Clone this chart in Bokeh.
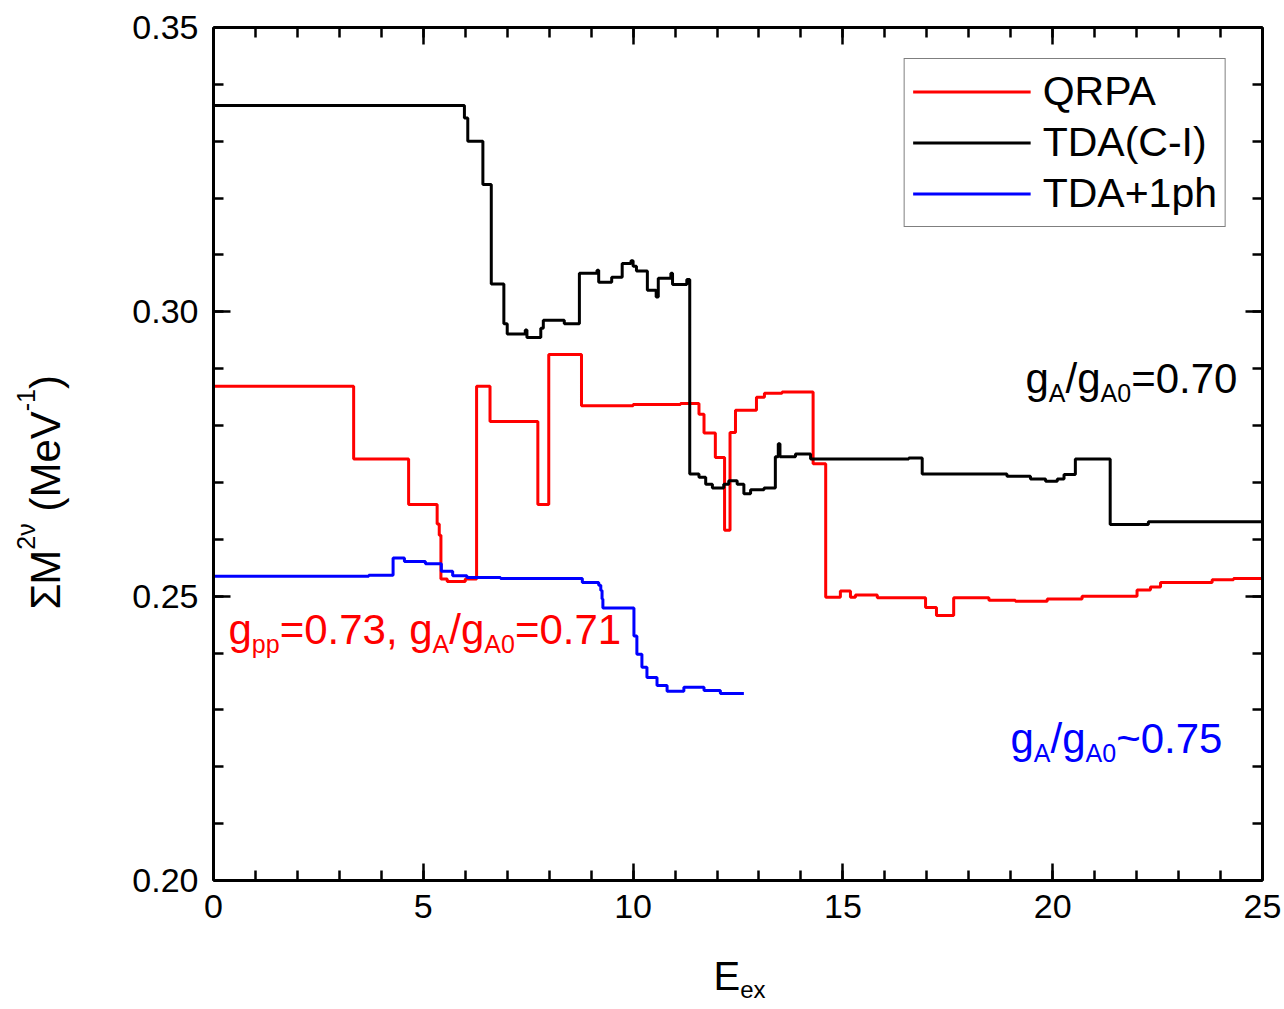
import math
from bokeh.plotting import figure
from bokeh.models import Label, LinearAxis, FixedTicker, PrintfTickFormatter, Range1d
from bokeh.embed import file_html
from bokeh.resources import INLINE

# ---------------- data ----------------
qrpa_e = [0.00, 3.34, 4.65, 5.33, 5.38, 5.42, 5.57, 6.00, 6.27, 6.59, 7.73, 7.99, 8.77, 10.00,
          11.13, 11.57, 11.69, 11.96, 12.18, 12.31, 12.44, 12.94, 13.13, 13.55, 14.29, 14.59,
          14.94, 15.18, 15.30, 15.82, 16.97, 17.23, 17.64, 18.48, 19.11, 19.87, 20.70, 22.01,
          22.33, 22.57, 23.80, 24.31, 25.00]
qrpa_m = [0.2869, 0.2741, 0.2661, 0.2627, 0.2607, 0.2530, 0.2526, 0.2530, 0.2869, 0.2807,
          0.2661, 0.2925, 0.2835, 0.2837, 0.2839, 0.2820, 0.2787, 0.2744, 0.2616, 0.2788,
          0.2827, 0.2850, 0.2857, 0.2859, 0.2733, 0.2498, 0.2509, 0.2498, 0.2502, 0.2497,
          0.2480, 0.2466, 0.2497, 0.2493, 0.2491, 0.2495, 0.2500, 0.2511, 0.2516, 0.2524,
          0.2529, 0.2531, 0.2531]

tda_e = [0.00, 5.98, 6.06, 6.42, 6.62, 6.92, 7.00, 7.43, 7.47, 7.80, 7.86, 8.36, 8.72, 9.14,
         9.18, 9.49, 9.74, 9.95, 10.00, 10.08, 10.34, 10.55, 10.60, 10.90, 10.94, 11.28, 11.35,
         11.57, 11.73, 11.89, 12.16, 12.28, 12.48, 12.64, 12.80, 13.12, 13.39, 13.46, 13.50,
         13.87, 14.23, 16.57, 16.89, 18.91, 19.47, 19.83, 20.11, 20.27, 20.54, 21.37, 22.28, 25.00]
tda_m = [0.3363, 0.3341, 0.3300, 0.3224, 0.3049, 0.2979, 0.2961, 0.2968, 0.2955, 0.2971,
         0.2985, 0.2979, 0.3068, 0.3073, 0.3052, 0.3061, 0.3085, 0.3090, 0.3080, 0.3072,
         0.3038, 0.3026, 0.3059, 0.3068, 0.3048, 0.3057, 0.2715, 0.2709, 0.2697, 0.2690,
         0.2697, 0.2703, 0.2697, 0.2680, 0.2687, 0.2690, 0.2745, 0.2768, 0.2745, 0.2750,
         0.2741, 0.2743, 0.2715, 0.2711, 0.2706, 0.2702, 0.2706, 0.2714, 0.2741, 0.2626,
         0.2631, 0.2631]

ph_e = [0.00, 3.70, 4.28, 4.55, 5.05, 5.43, 5.70, 6.04, 6.84, 8.79, 9.18, 9.23, 9.26, 9.28,
        10.02, 10.09, 10.21, 10.33, 10.57, 10.81, 11.21, 11.69, 12.08, 12.64]
ph_m = [0.2535, 0.2537, 0.2567, 0.2561, 0.2557, 0.2544, 0.2536, 0.2533, 0.2531, 0.2524,
        0.2519, 0.2510, 0.2495, 0.2479, 0.2430, 0.2398, 0.2375, 0.2357, 0.2343, 0.2333,
        0.2340, 0.2334, 0.2329, 0.2329]

series_names = ["QRPA", "TDA(C-I)", "TDA+1ph"]
x_ticks = [0, 5, 10, 15, 20, 25]
x_minor = [i for i in range(0, 26)]
y_ticks = [0.20, 0.25, 0.30, 0.35]
y_minor = [0.20 + 0.01 * i for i in range(16)]
x_lim = (0, 25)
y_lim = (0.20, 0.35)

FONT = "Liberation Sans"

# ---------------- canvas <-> data mapping ----------------
W_, H_ = 1284, 1009
FL, FR, FT, FB = 213, 1262, 27, 880   # pixel box of the data area
def X(px):
    return x_lim[0] + (px - FL) * (x_lim[1] - x_lim[0]) / (FR - FL)
def Y(py):
    return y_lim[0] + (FB - py) * (y_lim[1] - y_lim[0]) / (FB - FT)

p = figure(width=W_, height=H_, x_range=Range1d(X(0), X(W_)), y_range=Range1d(Y(H_), Y(0)),
           output_backend="svg", toolbar_location=None,
           x_axis_location=None, y_axis_location=None,
           min_border_left=0, min_border_right=0, min_border_top=0, min_border_bottom=0)
p.grid.visible = False
p.outline_line_color = None
p.background_fill_color = "white"
p.border_fill_color = "white"

bx = LinearAxis(fixed_location=y_lim[0], bounds=x_lim)
tx = LinearAxis(fixed_location=y_lim[1], bounds=x_lim)
ly = LinearAxis(fixed_location=x_lim[0], bounds=y_lim)
ry = LinearAxis(fixed_location=x_lim[1], bounds=y_lim)
p.add_layout(bx, "below")
p.add_layout(tx, "above")
p.add_layout(ly, "left")
p.add_layout(ry, "right")

for ax in [bx, tx]:
    ax.ticker = FixedTicker(ticks=x_ticks, minor_ticks=x_minor)
    ax.formatter = PrintfTickFormatter(format="%d")
for ax in [ly, ry]:
    ax.ticker = FixedTicker(ticks=y_ticks, minor_ticks=y_minor)
    ax.formatter = PrintfTickFormatter(format="%.2f")

for ax in [bx, tx, ly, ry]:
    ax.axis_line_width = 3
    ax.axis_line_color = "black"
    ax.major_tick_in = 17
    ax.major_tick_out = 0
    ax.minor_tick_in = 10
    ax.minor_tick_out = 0
    ax.major_tick_line_width = 2.5
    ax.minor_tick_line_width = 2.5
    ax.major_tick_line_color = "black"
    ax.minor_tick_line_color = "black"
    ax.major_label_text_font = FONT
    ax.major_label_text_font_size = "34px"
    ax.major_label_text_color = "black"
    ax.axis_label = None

bx.major_label_standoff = 14
ly.major_label_standoff = 15
for ax in [tx, ry]:
    ax.major_label_text_color = None

# ---------------- curves ----------------
p.step(qrpa_e, qrpa_m, mode="after", line_color="#ff0000", line_width=3, legend_label=series_names[0])
p.step(tda_e, tda_m, mode="after", line_color="black", line_width=3, legend_label=series_names[1])
p.step(ph_e, ph_m, mode="after", line_color="#0000ff", line_width=3, legend_label=series_names[2])

lg = p.legend[0]
lg.location = "top_right"
lg.margin = 58
lg.padding = 8
lg.spacing = 2
lg.label_height = 49
lg.glyph_height = 49
lg.glyph_width = 118
lg.label_standoff = 12
lg.label_text_font = FONT
lg.label_text_font_size = "41px"
lg.label_text_color = "black"
lg.border_line_color = "black"
lg.border_line_width = 1.5
lg.background_fill_alpha = 1.0

# ---------------- rich text helpers ----------------
CW = {'g': .556, 'A': .667, '/': .278, '=': .584, '.': .278, ',': .278, ' ': .278, 'p': .556,
      '~': .584, 'E': .667, 'e': .556, 'x': .5, 'M': .833, 'V': .667, '(': .333, ')': .333,
      '-': .333, 'Σ': .592, 'ν': .5}
def tw(s, size):
    return sum(CW.get(c, .556) for c in s) * size

def rich(pieces, px0, py0, color, shift):
    x = px0
    for txt, size, kind in pieces:
        lead = len(txt) - len(txt.lstrip(" "))
        x += tw(" " * lead, size)
        txt = txt.lstrip(" ")
        dy = shift if kind == "sub" else 0
        p.add_layout(Label(x=X(x), y=Y(py0 + dy), text=txt, text_font=FONT,
                           text_font_size=f"{size}px", text_color=color,
                           text_align="left", text_baseline="alphabetic"))
        x += tw(txt, size)

def rich_v(pieces, px0, py0, color, shift):
    y = py0
    for txt, size, kind in pieces:
        lead = len(txt) - len(txt.lstrip(" "))
        y -= tw(" " * lead, size)
        txt = txt.lstrip(" ")
        dx = -shift if kind == "sup" else 0
        p.add_layout(Label(x=X(px0 + dx), y=Y(y), text=txt, text_font=FONT, angle=math.pi / 2,
                           text_font_size=f"{size}px", text_color=color,
                           text_align="left", text_baseline="alphabetic"))
        y -= tw(txt, size)

BIG, SMALL = 42, 25
rich([("g", BIG, ""), ("A", SMALL, "sub"), ("/g", BIG, ""), ("A0", SMALL, "sub"), ("=0.70", BIG, "")],
     1025, 378, "black", 14)
rich([("g", BIG, ""), ("pp", SMALL, "sub"), ("=0.73, g", BIG, ""), ("A", SMALL, "sub"), ("/g", BIG, ""),
      ("A0", SMALL, "sub"), ("=0.71", BIG, "")], 228, 629, "#ff0000", 14)
rich([("g", BIG, ""), ("A", SMALL, "sub"), ("/g", BIG, ""), ("A0", SMALL, "sub"), ("~0.75", BIG, "")],
     1010, 738, "#0000ff", 14)

# axis titles
rich([("E", 40, ""), ("ex", 24, "sub")], 713, 975, "black", 14)
rich_v([("Σ", BIG, ""), ("M", BIG, ""), ("2ν", SMALL, "sup"), (" (MeV", BIG, ""), ("-1", SMALL, "sup"),
        (")", BIG, "")], 45, 609, "black", 20)

open("out.html", "w").write(file_html(p, INLINE))
